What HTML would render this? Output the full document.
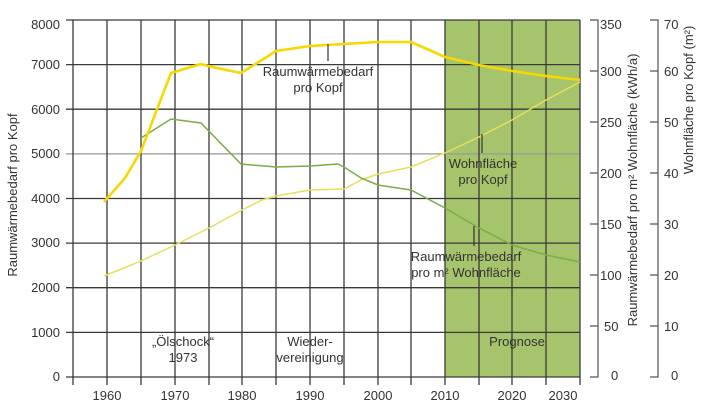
<!DOCTYPE html>
<html><head><meta charset="utf-8"><style>
html,body{margin:0;padding:0;background:#fff}
svg{display:block}
text{font-family:"Liberation Sans",sans-serif;fill:#333;font-size:13px}
</style></head><body>
<svg width="710" height="416" viewBox="0 0 710 416" xmlns="http://www.w3.org/2000/svg">
<rect x="445" y="20" width="135" height="357" fill="#a6c46c"/>
<g stroke="#3a3a3a" stroke-width="1.3">
<line x1="66" y1="20" x2="580" y2="20"/>
<line x1="66" y1="64.6" x2="580" y2="64.6"/>
<line x1="66" y1="109.2" x2="580" y2="109.2"/>
<line x1="66" y1="153.9" x2="580" y2="153.9" stroke="#999"/>
<line x1="66" y1="198.5" x2="580" y2="198.5"/>
<line x1="66" y1="243.1" x2="580" y2="243.1"/>
<line x1="66" y1="287.7" x2="580" y2="287.7"/>
<line x1="66" y1="332.4" x2="580" y2="332.4"/>
<line x1="66" y1="377" x2="580" y2="377"/>
<line x1="73" y1="20" x2="73" y2="385"/>
<line x1="107" y1="20" x2="107" y2="385"/>
<line x1="141" y1="20" x2="141" y2="385"/>
<line x1="175" y1="20" x2="175" y2="385"/>
<line x1="209" y1="20" x2="209" y2="385"/>
<line x1="242" y1="20" x2="242" y2="385"/>
<line x1="276" y1="20" x2="276" y2="385"/>
<line x1="310" y1="20" x2="310" y2="385"/>
<line x1="344" y1="20" x2="344" y2="385"/>
<line x1="378" y1="20" x2="378" y2="385"/>
<line x1="411" y1="20" x2="411" y2="385"/>
<line x1="445" y1="20" x2="445" y2="385"/>
<line x1="479" y1="20" x2="479" y2="385"/>
<line x1="512" y1="20" x2="512" y2="385"/>
<line x1="546" y1="20" x2="546" y2="385"/>
<line x1="580" y1="20" x2="580" y2="385"/>
</g>
<g stroke="#555" stroke-width="1.2" fill="none">
<path d="M590 20 H598 V377 H590 M590 71 H598 M590 122 H598 M590 173 H598 M590 224 H598 M590 275 H598 M590 326 H598"/>
<path d="M650 20 H658 V377 H650 M650 71 H658 M650 122 H658 M650 173 H658 M650 224 H658 M650 275 H658 M650 326 H658"/>
</g>
<polyline fill="none" stroke="#e6e05a" stroke-width="1.5" points="104,276 141,261 175,245 209,228 242,210 262,200 276,196 310,190 344,189 361,180 378,174 411,167 445,153 479,137 512,120 546,100 580,82"/>
<polyline fill="none" stroke="#79ad45" stroke-width="1.5" points="141,138 171,119 201,123 241,164 276,167 310,166 338,164 344,167 361,178 378,185 411,190 445,208 479,228 512,245 546,255 580,262"/>
<polyline fill="none" stroke="#f7d800" stroke-width="2.6" stroke-linejoin="round" points="104,202 125,178 141,151 171,73 201,64 212,67 241,73 262,60 276,51 310,46 344,44 378,42 411,42 445,57 479,65 512,71 546,76 580,80"/>
<g stroke="#333" stroke-width="1.2">
<line x1="328" y1="44" x2="328" y2="61"/>
<line x1="482" y1="134" x2="482" y2="153"/>
<line x1="474" y1="226" x2="474" y2="246"/>
</g>
<g text-anchor="end">
<text x="60" y="29">8000</text><text x="60" y="69">7000</text><text x="60" y="114">6000</text>
<text x="60" y="158">5000</text><text x="60" y="203">4000</text><text x="60" y="247">3000</text>
<text x="60" y="292">2000</text><text x="60" y="337">1000</text><text x="60" y="381">0</text>
</g>
<g text-anchor="middle">
<text x="107" y="400">1960</text><text x="175" y="400">1970</text><text x="242" y="400">1980</text>
<text x="310" y="400">1990</text><text x="378" y="400">2000</text><text x="445" y="400">2010</text>
<text x="512" y="400">2020</text><text x="563" y="400">2030</text>
<text x="318" y="76">Raumwärmebedarf</text><text x="318" y="92">pro Kopf</text>
<text x="483" y="168">Wohnfläche</text><text x="483" y="184">pro Kopf</text>
<text x="466" y="261">Raumwärmebedarf</text><text x="466" y="277">pro m² Wohnfläche</text>
<text x="183" y="346">„Ölschock“</text><text x="183" y="362">1973</text>
<text x="310" y="346">Wieder-</text><text x="310" y="362">vereinigung</text>
<text x="517" y="346">Prognose</text>
</g>
<g>
<text x="600" y="29">350</text><text x="600" y="76">300</text><text x="600" y="127">250</text>
<text x="600" y="178">200</text><text x="600" y="229">150</text><text x="600" y="280">100</text>
<text x="604" y="331">50</text><text x="611" y="380">0</text>
<text x="664" y="29">70</text><text x="664" y="76">60</text><text x="664" y="127">50</text>
<text x="664" y="178">40</text><text x="664" y="229">30</text><text x="664" y="280">20</text>
<text x="664" y="331">10</text><text x="671" y="380">0</text>
</g>
<text transform="translate(17,195) rotate(-90)" text-anchor="middle">Raumwärmebedarf pro Kopf</text>
<text transform="translate(637,190) rotate(-90)" text-anchor="middle">Raumwärmebedarf pro m² Wohnfläche (kWh/a)</text>
<text transform="translate(693,100) rotate(-90)" text-anchor="middle">Wohnfläche pro Kopf (m²)</text>
</svg>
</body></html>
